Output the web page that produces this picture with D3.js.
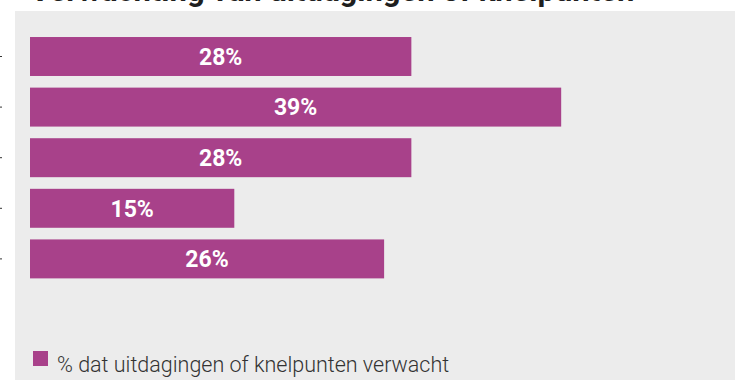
<!DOCTYPE html>
<html>
<head>
<meta charset="utf-8">
<script src="https://cdn.jsdelivr.net/npm/d3@7/dist/d3.min.js"></script>
<style>
  html, body { margin: 0; padding: 0; background: #ffffff; }
  svg { display: block; }
</style>
</head>
<body>
<svg id="chart" width="735" height="380"></svg>
<script>
// Chart data
const title = "Verwachting van uitdagingen of knelpunten";
const categories = ["Categorie 1", "Categorie 2", "Categorie 3", "Categorie 4", "Categorie 5"];
const values = [28, 39, 28, 15, 26];
const seriesName = "% dat uitdagingen of knelpunten verwacht";

const W = 735, H = 380;
const barColor = "#a8418a";
const panelColor = "#ececec";

const svg = d3.select("#chart");

// Title (sits above the panel)
svg.append("text")
  .attr("x", 30)
  .attr("y", 1)
  .attr("font-family", "Roboto, sans-serif")
  .attr("font-weight", 700)
  .attr("font-size", 31)
  .attr("fill", "#1f1f1f")
  .text(title);

// Grey plot panel
svg.append("rect")
  .attr("x", 15).attr("y", 11)
  .attr("width", W - 15).attr("height", H - 11)
  .attr("fill", panelColor);

const x = d3.scaleLinear().domain([0, 50]).range([30, 711]);
const y = d3.scaleBand()
  .domain(categories)
  .range([31.2, 284.2])
  .paddingInner(0.23)
  .paddingOuter(0.115);

// Category axis (labels lie outside the visible area)
const yAxis = svg.append("g")
  .attr("transform", "translate(2,0)")
  .call(d3.axisLeft(y).tickSize(5).tickFormat(() => ""));
yAxis.select(".domain").remove();
yAxis.selectAll(".tick line").attr("stroke", "#333").attr("stroke-width", 1);

const rows = categories.map((c, i) => ({ cat: c, value: values[i] }));

svg.append("g").selectAll("rect")
  .data(rows)
  .join("rect")
  .attr("x", x(0))
  .attr("y", d => y(d.cat))
  .attr("width", d => x(d.value) - x(0))
  .attr("height", y.bandwidth())
  .attr("fill", barColor);

svg.append("g").selectAll("text")
  .data(rows)
  .join("text")
  .attr("x", d => (x(0) + x(d.value)) / 2)
  .attr("y", d => y(d.cat) + y.bandwidth() / 2)
  .attr("dy", "0.36em")
  .attr("text-anchor", "middle")
  .attr("font-family", "Roboto, sans-serif")
  .attr("font-weight", 700)
  .attr("font-size", 23)
  .attr("fill", "#ffffff")
  .text(d => d.value + "%");

// Legend
const legend = svg.append("g").attr("transform", "translate(33,351)");
legend.append("rect")
  .attr("width", 15).attr("height", 15)
  .attr("fill", barColor);
legend.append("text")
  .attr("x", 24)
  .attr("y", 21)
  .attr("font-family", "Roboto, sans-serif")
  .attr("font-weight", 300)
  .attr("font-size", 21.5)
  .attr("fill", "#333333")
  .text(seriesName);
</script>
</body>
</html>
